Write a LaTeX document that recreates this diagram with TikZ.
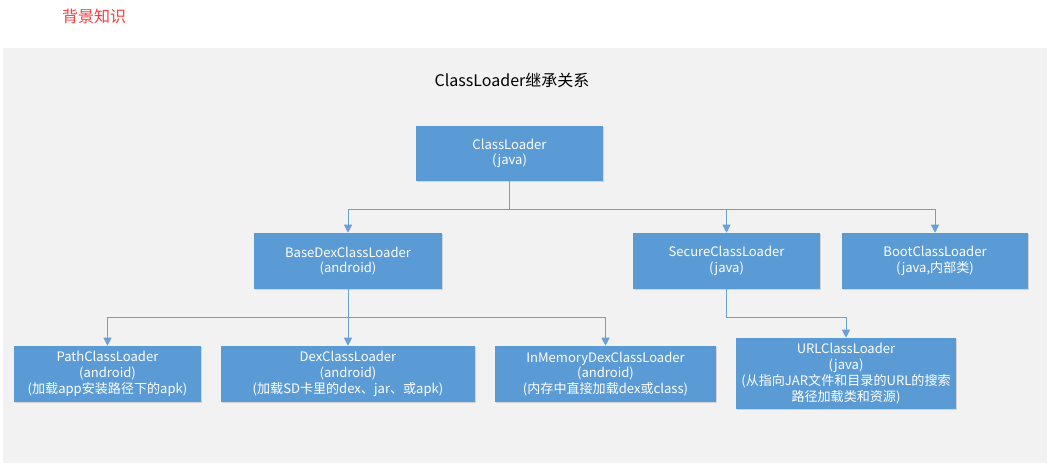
\documentclass[tikz,border=0pt]{standalone}
\usepackage{fontspec}
\setmainfont{Noto Sans CJK SC}
\usetikzlibrary{arrows.meta,shadows}
\definecolor{boxblue}{RGB}{91,155,213}
\definecolor{lineblue}{RGB}{104,160,215}
\definecolor{bggray}{RGB}{242,242,242}
\definecolor{titlered}{RGB}{250,60,60}
\tikzset{
  loader/.style={rectangle, fill=boxblue, text=white, align=center,
    font=\fontsize{9.8}{11.8}\selectfont, inner sep=0pt,
    drop shadow={shadow xshift=0.6pt, shadow yshift=-0.6pt, fill=black!25, opacity=0.6}},
  arr/.style={draw=lineblue, line width=0.75pt, -{Triangle[width=6pt,length=6pt]}}
}
\begin{document}
\begin{tikzpicture}[x=0.75pt,y=-0.75pt]
\useasboundingbox (0,0) rectangle (1050,466);
\fill[bggray] (3,48) rectangle (1047,463);
\node[text=titlered, font=\fontsize{12}{14}\selectfont] (heading) at (94,16) {背景知识};
\node[font=\fontsize{12}{14}\selectfont] (caption) at (512,80) {ClassLoader继承关系};
% boxes
\node[loader, minimum width=140.25pt, minimum height=41.25pt] (cl) at (509.5,153.5) {ClassLoader\\(java)};
\node[loader, minimum width=141pt, minimum height=42pt] (base) at (348,261) {BaseDexClassLoader\\(android)};
\node[loader, minimum width=140.25pt, minimum height=42pt] (secure) at (726.5,261) {SecureClassLoader\\(java)};
\node[loader, minimum width=139.5pt, minimum height=42pt] (boot) at (935,261) {BootClassLoader\\(java,内部类)};
\node[loader, minimum width=140.25pt, minimum height=42pt] (path) at (107.5,374) {PathClassLoader\\(android)\\(加载app安装路径下的apk)};
\node[loader, minimum width=190.5pt, minimum height=42pt] (dex) at (348,374) {DexClassLoader\\(android)\\(加载SD卡里的dex、jar、或apk)};
\node[loader, minimum width=165.75pt, minimum height=42pt] (inmem) at (605.5,374) {InMemoryDexClassLoader\\(android)\\(内存中直接加载dex或class)};
\node[loader, minimum width=165pt, minimum height=53.25pt] (url) at (846,373.5) {URLClassLoader\\(java)\\(从指向JAR文件和目录的URL的搜索\\路径加载类和资源)};
% buses
\coordinate (bus1) at (0,210);
\coordinate (bus2) at (0,318);
\draw[arr] (cl.south) -- (cl.south |- bus1) -| (base.north);
\draw[arr] (cl.south) -- (cl.south |- bus1) -| (secure.north);
\draw[arr] (cl.south) -- (cl.south |- bus1) -| (boot.north);
\draw[arr] (base.south) -- (base.south |- bus2) -| (path.north);
\draw[arr] (base.south) -- (dex.north);
\draw[arr] (base.south) -- (base.south |- bus2) -| (inmem.north);
\draw[arr] (secure.south) -- (secure.south |- bus2) -| (url.north);
\end{tikzpicture}
\end{document}
